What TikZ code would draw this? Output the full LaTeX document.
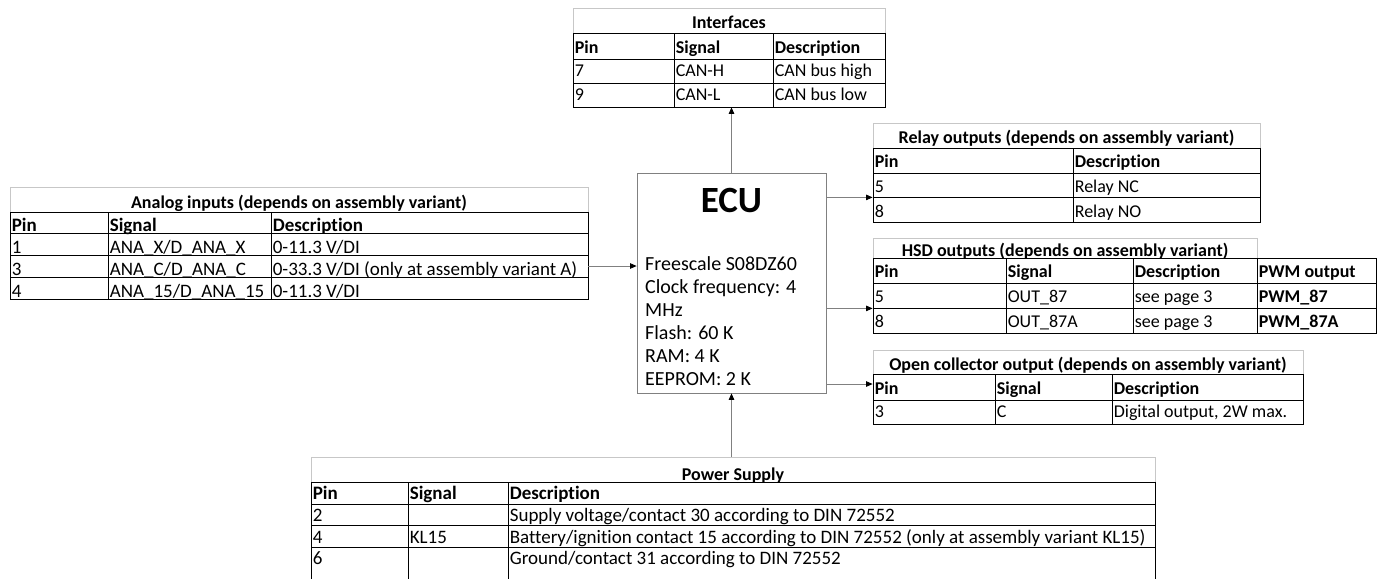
\documentclass[tikz,border=0pt]{standalone}
\usepackage{fontspec}
\setmainfont{Carlito}[RawFeature={-liga}]
\usetikzlibrary{arrows.meta,calc}
\tikzset{
  cellbox/.style={draw=black, line width=0.8pt, inner sep=0pt},
  celltext/.style={anchor=base west, inner sep=0pt, font=\fontsize{18}{22}\selectfont},
  hd/.style={font=\fontsize{18}{22}\selectfont\bfseries},
  big/.style={font=\fontsize{19}{23}\selectfont},
  bighd/.style={font=\fontsize{19}{23}\selectfont\bfseries},
  titlebox/.style={draw=black!22, line width=0.8pt, inner sep=0pt},
  titletext/.style={anchor=base, inner sep=0pt, font=\fontsize{18}{22}\selectfont\bfseries},
  ecubox/.style={draw=black!50, line width=0.8pt, inner sep=0pt},
  arr/.style={draw=black!50, line width=0.8pt, -{Triangle[length=6.5pt,width=5.5pt,color=black]}}
}
% cell: [text opts]{name}{x1}{y1}{x2}{y2}{baseline offset}{text}
\newcommand\tcell[8][]{%
  \pgfmathsetmacro\cwid{#5-#3}\pgfmathsetmacro\chgt{#6-#4}%
  \node[cellbox,minimum width=\cwid pt,minimum height=\chgt pt] (#2) at ({(#3+#5)/2},{(#4+#6)/2}) {};%
  \node[celltext,#1] (#2-t) at ([shift={(2pt,#7pt)}]#2.south west) {#8};}
% title: {name}{x1}{y1}{x2}{y2}{baseline offset}{text}
\newcommand\ttitle[7]{%
  \pgfmathsetmacro\cwid{#4-#2}\pgfmathsetmacro\chgt{#5-#3}%
  \node[titlebox,minimum width=\cwid pt,minimum height=\chgt pt] (#1) at ({(#2+#4)/2},{(#3+#5)/2}) {};%
  \node[titletext] (#1-t) at ([yshift=#6pt]#1.south) {#7};}
\begin{document}
\begin{tikzpicture}[x=1pt,y=-1pt]
\useasboundingbox (0,0) rectangle (1391,578);
\fill[white] (0,0) rectangle (1391,578);

% ---------- Interfaces ----------
\ttitle{if}{573}{8}{885}{33}{4.7}{Interfaces}
\tcell[hd]{if-h1}{573}{33}{674}{59}{6}{Pin}
\tcell[hd]{if-h2}{674}{33}{773}{59}{6}{Signal}
\tcell[hd]{if-h3}{773}{33}{885}{59}{6}{Description}
\tcell{if-p1}{573}{59}{674}{83}{7}{7}
\tcell{if-s1}{674}{59}{773}{83}{7}{CAN-H}
\tcell{if-d1}{773}{59}{885}{83}{7}{CAN bus high}
\tcell{if-p2}{573}{83}{674}{107}{7}{9}
\tcell{if-s2}{674}{83}{773}{107}{7}{CAN-L}
\tcell{if-d2}{773}{83}{885}{107}{7}{CAN bus low}

% ---------- Relay outputs ----------
\ttitle{rl}{873}{123}{1260}{148}{4.7}{Relay outputs (depends on assembly variant)}
\tcell[hd]{rl-h1}{873}{148}{1073}{173}{5.7}{Pin}
\tcell[hd]{rl-h2}{1073}{148}{1260}{173}{5.7}{Description}
\tcell{rl-p1}{873}{173}{1073}{197}{4.7}{5}
\tcell{rl-d1}{1073}{173}{1260}{197}{4.7}{Relay NC}
\tcell{rl-p2}{873}{197}{1073}{222}{5}{8}
\tcell{rl-d2}{1073}{197}{1260}{222}{5}{Relay NO}

% ---------- Analog inputs ----------
\ttitle{an}{10}{187}{588}{212}{4}{Analog inputs (depends on assembly variant)}
\tcell[bighd]{an-h1}{10}{212}{108}{233}{1.5}{Pin}
\tcell[bighd]{an-h2}{108}{212}{271}{233}{1.5}{Signal}
\tcell[bighd]{an-h3}{271}{212}{588}{233}{1.5}{Description}
\tcell[big]{an-p1}{10}{233}{108}{255}{1.5}{1}
\tcell[big]{an-s1}{108}{233}{271}{255}{1.5}{ANA\_X/D\_ANA\_X}
\tcell[big]{an-d1}{271}{233}{588}{255}{1.5}{0-11.3 V/DI}
\tcell[big]{an-p2}{10}{255}{108}{277}{1.5}{3}
\tcell[big]{an-s2}{108}{255}{271}{277}{1.5}{ANA\_C/D\_ANA\_C}
\tcell[big]{an-d2}{271}{255}{588}{277}{1.5}{0-33.3 V/DI (only at assembly variant A)}
\tcell[big]{an-p3}{10}{277}{108}{299}{1.5}{4}
\tcell[big]{an-s3}{108}{277}{271}{299}{1.5}{ANA\_15/D\_ANA\_15}
\tcell[big]{an-d3}{271}{277}{588}{299}{1.5}{0-11.3 V/DI}

% ---------- HSD outputs ----------
\ttitle{hs}{873}{238}{1257}{258}{1.5}{HSD outputs (depends on assembly variant)}
\tcell[hd]{hs-h1}{873}{258}{1006}{283}{5.7}{Pin}
\tcell[hd]{hs-h2}{1006}{258}{1133}{283}{5.7}{Signal}
\tcell[hd]{hs-h3}{1133}{258}{1257}{283}{5.7}{Description}
\tcell[hd]{hs-h4}{1257}{258}{1376}{283}{5.7}{PWM output}
\tcell{hs-p1}{873}{283}{1006}{308}{6.3}{5}
\tcell{hs-s1}{1006}{283}{1133}{308}{6.3}{OUT\_87}
\tcell{hs-d1}{1133}{283}{1257}{308}{6.3}{see page 3}
\tcell[hd]{hs-w1}{1257}{283}{1376}{308}{6.3}{PWM\_87}
\tcell{hs-p2}{873}{308}{1006}{333}{6.3}{8}
\tcell{hs-s2}{1006}{308}{1133}{333}{6.3}{OUT\_87A}
\tcell{hs-d2}{1133}{308}{1257}{333}{6.3}{see page 3}
\tcell[hd]{hs-w2}{1257}{308}{1376}{333}{6.3}{PWM\_87A}

% ---------- Open collector ----------
\ttitle{oc}{873}{350}{1303}{374}{4}{Open collector output (depends on assembly variant)}
\tcell[hd]{oc-h1}{873}{374}{995}{400}{5.7}{Pin}
\tcell[hd]{oc-h2}{995}{374}{1112}{400}{5.7}{Signal}
\tcell[hd]{oc-h3}{1112}{374}{1303}{400}{5.7}{Description}
\tcell{oc-p1}{873}{400}{995}{424}{7}{3}
\tcell{oc-s1}{995}{400}{1112}{424}{7}{C}
\tcell{oc-d1}{1112}{400}{1303}{424}{7}{Digital output, 2W max.}

% ---------- Power supply ----------
\ttitle{ps}{311}{457}{1155}{482}{2}{Power Supply}
\tcell[bighd]{ps-h1}{311}{482}{408}{504}{4.7}{Pin}
\tcell[bighd]{ps-h2}{408}{482}{508}{504}{4.7}{Signal}
\tcell[bighd]{ps-h3}{508}{482}{1155}{504}{4.7}{Description}
\tcell[big]{ps-p1}{311}{504}{408}{525}{4.3}{2}
\tcell[big]{ps-s1}{408}{504}{508}{525}{4.3}{}
\tcell[big]{ps-d1}{508}{504}{1155}{525}{4.3}{Supply voltage/contact 30 according to DIN 72552}
\tcell[big]{ps-p2}{311}{525}{408}{547}{4.3}{4}
\tcell[big]{ps-s2}{408}{525}{508}{547}{4.3}{KL15}
\tcell[big]{ps-d2}{508}{525}{1155}{547}{4.3}{Battery/ignition contact 15 according to DIN 72552 (only at assembly variant KL15)}
\tcell[big]{ps-p3}{311}{547}{408}{590}{26.3}{6}
\tcell[big]{ps-s3}{408}{547}{508}{590}{26.3}{}
\tcell[big]{ps-d3}{508}{547}{1155}{590}{26.3}{Ground/contact 31 according to DIN 72552}

% ---------- ECU ----------
\node[ecubox,minimum width=189pt,minimum height=220pt] (ecu) at (731.5,283) {};
\node[anchor=base,inner sep=0pt,font=\fontsize{37}{40}\selectfont\bfseries] (ecu-title) at (731.5,212.5) {ECU};
\node[anchor=base west,inner sep=0pt,align=left,font=\fontsize{20}{23}\selectfont] (ecu-body) at (645,385)
  {Freescale S08DZ60\\Clock frequency: 4\\MHz\\Flash: 60 K\\RAM: 4 K\\EEPROM: 2 K};

% ---------- connectors ----------
\draw[arr] (ecu.north) -- (ecu.north |- if-s2.south);
\draw[arr] (ecu.east |- rl-p1.south west) -- (rl-p1.south west);
\draw[arr] (ecu.east |- hs-p1.south west) -- (hs-p1.south west);
\coordinate (oc-in) at ([yshift=3pt]oc-h1.west);
\draw[arr] (ecu.east |- oc-in) -- (oc-in);
\draw[arr] (an-d2.east) -- (ecu.west |- an-d2.east);
\draw[arr] (ps.north -| ecu.south) -- (ecu.south);
\end{tikzpicture}
\end{document}
